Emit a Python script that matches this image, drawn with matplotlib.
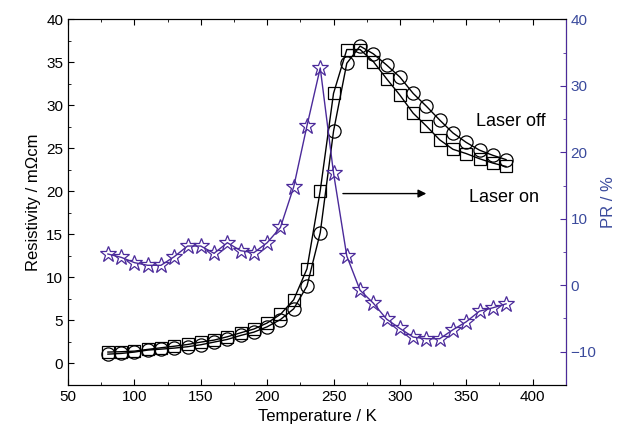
import matplotlib
matplotlib.use("Agg")
import matplotlib.pyplot as plt
from matplotlib.ticker import MultipleLocator

plt.rcParams['font.family'] = ['Liberation Sans', 'DejaVu Sans']

temp = list(range(80, 390, 10))

# resistivity, squares
rho_sq = [1.32, 1.36, 1.43, 1.63, 1.82, 2.0, 2.2, 2.48, 2.71, 3.1, 3.56, 4.0, 4.7, 5.7,
          7.4, 11.0, 20.1, 31.4, 36.5, 36.5, 35.1, 33.1, 31.2, 29.1, 27.6, 26.0, 24.9,
          24.4, 23.8, 23.3, 22.9]
# resistivity, circles
rho_ci = [1.08, 1.16, 1.32, 1.55, 1.66, 1.78, 1.94, 2.17, 2.48, 2.79, 3.25, 3.64, 4.26,
          5.1, 6.35, 9.0, 15.2, 27.0, 34.9, 36.9, 36.0, 34.7, 33.3, 31.4, 29.9, 28.3,
          26.8, 25.7, 24.8, 24.2, 23.7]
# PR, stars
pr = [4.7, 4.2, 3.4, 3.0, 3.0, 4.3, 5.9, 5.9, 4.8, 6.4, 5.2, 4.9, 6.4, 8.7, 14.8, 24.0,
      32.7, 16.9, 4.4, -0.75, -2.7, -5.1, -6.5, -7.8, -8.05, -8.05, -6.7, -5.5, -3.9,
      -3.4, -2.8]

purple = '#4b2a9a'
blue = '#3a4a9c'

fig = plt.figure(figsize=(6.19, 4.32), dpi=100)
ax = fig.add_axes([0.110, 0.109, 0.804, 0.846])
ax2 = ax.twinx()

ax.plot(temp, rho_sq, '-', color='black', lw=1, marker='s', ms=8.5,
        mfc='none', mec='black', mew=0.9)
ax.plot(temp, rho_ci, '-', color='black', lw=1, marker='o', ms=9.5,
        mfc='none', mec='black', mew=0.9)
ax2.plot(temp, pr, '-', color=purple, lw=1, marker='*', ms=12,
         mfc='none', mec=purple, mew=0.9)

ax.set_xlim(50, 425)
ax.set_ylim(-2.5, 40)
ax2.set_ylim(-15, 40)

ax.xaxis.set_major_locator(MultipleLocator(50))
ax.xaxis.set_minor_locator(MultipleLocator(25))
ax.yaxis.set_major_locator(MultipleLocator(5))
ax.yaxis.set_minor_locator(MultipleLocator(2.5))
ax2.yaxis.set_major_locator(MultipleLocator(10))
ax2.yaxis.set_minor_locator(MultipleLocator(5))

ax.tick_params(axis='x', which='both', direction='in', top=True, labelsize=11)
ax.tick_params(axis='y', which='both', direction='in', right=False, labelsize=11)
ax.tick_params(which='major', length=4)
ax.tick_params(which='minor', length=2.5)
ax2.tick_params(axis='y', which='both', direction='in', color=purple,
                labelcolor=blue, labelsize=11)
ax2.tick_params(which='major', length=4)
ax2.tick_params(which='minor', length=2.5)
ax2.spines['right'].set_color(purple)

ax.set_xlabel('Temperature / K', fontsize=12)
ax.set_ylabel('Resistivity / m\u03a9cm', fontsize=12)
ax2.set_ylabel('PR / %', fontsize=12, color=blue, labelpad=3)

ax.annotate('', xy=(322, 19.75), xytext=(255, 19.75),
            arrowprops=dict(arrowstyle='-|>', color='black', lw=1, mutation_scale=12))
ax.text(357.5, 28.1, 'Laser off', fontsize=13, va='center')
ax.text(352, 19.3, 'Laser on', fontsize=13, va='center')

fig.savefig('out.png', dpi=100)
